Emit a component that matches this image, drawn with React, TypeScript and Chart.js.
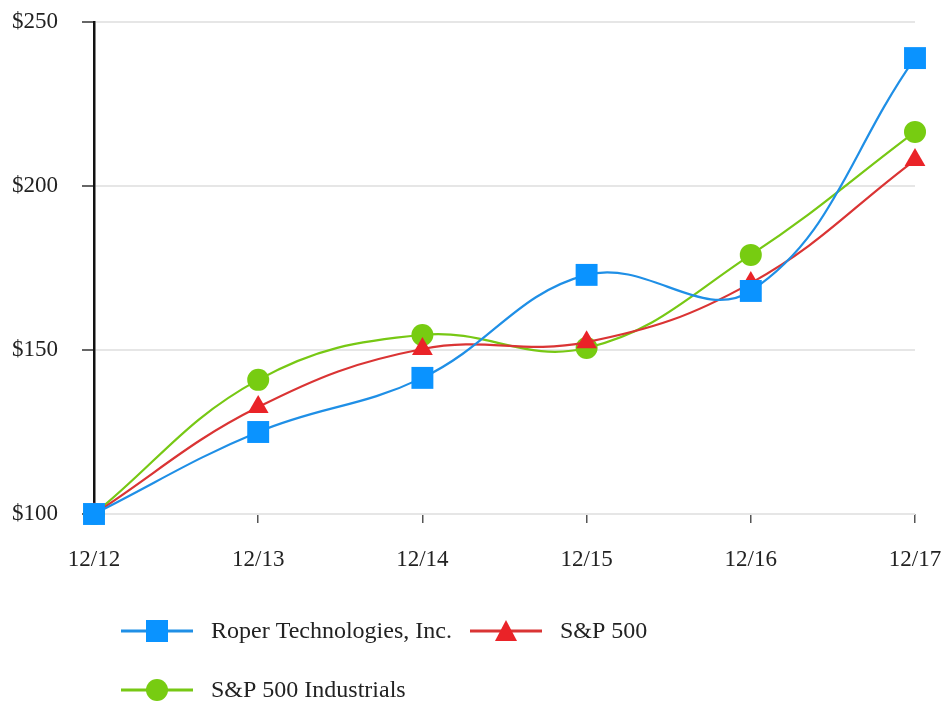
import React, { useEffect, useRef } from "react";
import { Chart, registerables } from "chart.js";

Chart.register(...registerables);

const categories = ["12/12", "12/13", "12/14", "12/15", "12/16", "12/17"];
const roper = [100, 125, 141.5, 172.9, 168, 239];
const sp500 = [100, 132.6, 150.3, 152.4, 170.4, 207.9];
const industrials = [100, 140.9, 154.6, 150.6, 179, 216.5];
const yTicks = [100, 150, 200, 250];

const seriesNames = ["Roper Technologies, Inc.", "S&P 500", "S&P 500 Industrials"];

const FONT = "'Liberation Serif', 'Times New Roman', serif";

const BLUE_LINE = "#1f8fe6";
const BLUE_MARK = "#0a93ff";
const RED_LINE = "#da3434";
const RED_MARK = "#ea2328";
const GREEN_LINE = "#77c814";
const GREEN_MARK = "#77cc11";

function drawMarker(ctx: CanvasRenderingContext2D, style: string, x: number, y: number, color: string) {
  ctx.save();
  ctx.fillStyle = color;
  ctx.beginPath();
  if (style === "rect") {
    ctx.rect(x - 11, y - 11, 22, 22);
  } else if (style === "triangle") {
    ctx.moveTo(x, y - 11);
    ctx.lineTo(x + 11, y + 10);
    ctx.lineTo(x - 11, y + 10);
    ctx.closePath();
  } else {
    ctx.arc(x, y, 11, 0, Math.PI * 2);
  }
  ctx.fill();
  ctx.restore();
}

const legendPlugin = {
  id: "customLegend",
  afterDraw(chart: any) {
    const ctx: CanvasRenderingContext2D = chart.ctx;
    const items = [
      { name: seriesNames[0], line: BLUE_LINE, mark: BLUE_MARK, style: "rect", x: 121, y: 631 },
      { name: seriesNames[1], line: RED_LINE, mark: RED_MARK, style: "triangle", x: 470, y: 631 },
      { name: seriesNames[2], line: GREEN_LINE, mark: GREEN_MARK, style: "circle", x: 121, y: 690 },
    ];
    ctx.save();
    for (const it of items) {
      ctx.strokeStyle = it.line;
      ctx.lineWidth = 3;
      ctx.beginPath();
      ctx.moveTo(it.x, it.y);
      ctx.lineTo(it.x + 72, it.y);
      ctx.stroke();
      drawMarker(ctx, it.style, it.x + 36, it.y, it.mark);
      ctx.fillStyle = "#222";
      ctx.font = `24px ${FONT}`;
      ctx.textBaseline = "middle";
      ctx.textAlign = "left";
      ctx.fillText(it.name, it.x + 90, it.y + 1);
    }
    ctx.restore();
  },
};

export default function App() {
  const ref = useRef<HTMLCanvasElement>(null);
  useEffect(() => {
    if (!ref.current) return;
    const common = { borderWidth: 2.2, tension: 0.4, pointBorderWidth: 0, clip: false as any };
    const chart = new Chart(ref.current, {
      type: "line",
      data: {
        labels: categories,
        datasets: [
          {
            ...common,
            label: seriesNames[0],
            data: roper,
            borderColor: BLUE_LINE,
            backgroundColor: BLUE_MARK,
            pointBackgroundColor: BLUE_MARK,
            pointBorderColor: BLUE_MARK,
            pointStyle: "rect",
            pointRadius: 15.5,
          },
          {
            ...common,
            label: seriesNames[1],
            data: sp500,
            borderColor: RED_LINE,
            backgroundColor: RED_MARK,
            pointBackgroundColor: RED_MARK,
            pointBorderColor: RED_MARK,
            pointStyle: "triangle",
            pointRadius: 12,
          },
          {
            ...common,
            label: seriesNames[2],
            data: industrials,
            borderColor: GREEN_LINE,
            backgroundColor: GREEN_MARK,
            pointBackgroundColor: GREEN_MARK,
            pointBorderColor: GREEN_MARK,
            pointStyle: "circle",
            pointRadius: 11,
          },
        ],
      },
      options: {
        responsive: false,
        animation: false,
        layout: { autoPadding: false, padding: { left: 0, right: 28, top: 22, bottom: 128 } },
        plugins: { legend: { display: false }, tooltip: { enabled: false } },
        scales: {
          x: {
            offset: false,
            grid: {
              drawOnChartArea: false,
              drawTicks: true,
              tickLength: 9,
              tickColor: "#555",
              lineWidth: 1.5,
            },
            border: { display: false },
            ticks: {
              color: "#222",
              font: { family: FONT, size: 23 },
              padding: 23,
              maxRotation: 0,
              autoSkip: false,
            },
            afterFit: (scale: any) => {
              scale.height = 60;
              scale.paddingLeft = 0;
              scale.paddingRight = 0;
            },
          },
          y: {
            min: 100,
            max: 250,
            afterBuildTicks: (scale: any) => {
              scale.ticks = yTicks.map((v) => ({ value: v }));
            },
            grid: {
              color: "#e6e6e6",
              lineWidth: 2,
              tickColor: "#666",
              tickLength: 12,
            },
            border: { display: true, color: "#111", width: 2.5 },
            ticks: {
              color: "#222",
              font: { family: FONT, size: 23 },
              padding: 24,
              callback: (v: any) => "$" + v,
            },
            afterFit: (scale: any) => {
              scale.width = 94;
              scale.paddingTop = 0;
              scale.paddingBottom = 0;
            },
          },
        },
      },
      plugins: [legendPlugin],
    });
    return () => chart.destroy();
  }, []);
  return (
    <div style={{ position: "fixed", left: 0, top: 0, width: 943, height: 702, background: "#fff" }}>
      <canvas ref={ref} width={943} height={702} style={{ display: "block" }} />
    </div>
  );
}
